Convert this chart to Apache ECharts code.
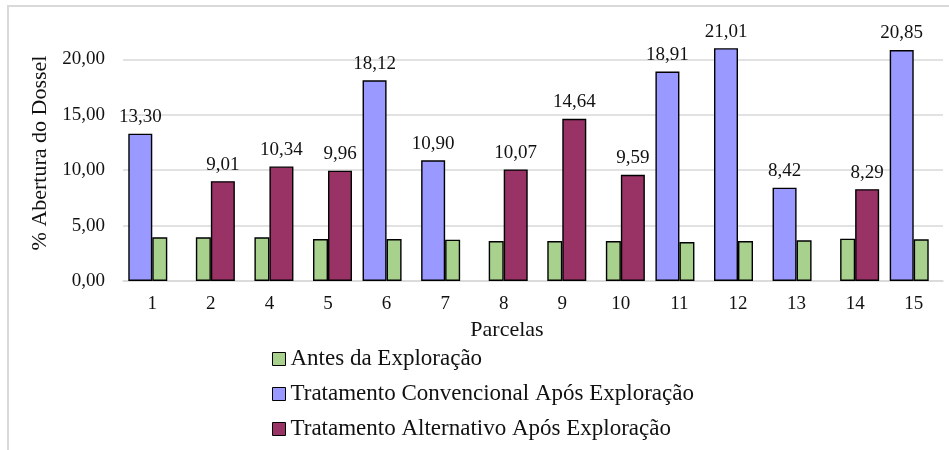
<!DOCTYPE html>
<html>
<head>
<meta charset="utf-8">
<script src="https://cdn.jsdelivr.net/npm/echarts@6/dist/echarts.min.js"></script>
<style>
  html, body { margin: 0; padding: 0; background: #fff; }
  #chart { width: 949px; height: 450px; }
</style>
</head>
<body>
<div id="chart"></div>
<script>
// Parcelas (plots) on the category axis
const parcelas = ['1', '2', '4', '5', '6', '7', '8', '9', '10', '11', '12', '13', '14', '15'];

// % canopy opening before logging, one value per plot
const antes = [3.94, 3.94, 3.94, 3.79, 3.79, 3.73, 3.61, 3.61, 3.61, 3.52, 3.61, 3.67, 3.82, 3.76];

// % canopy opening after logging; each plot received one of the two treatments
const convencional = [13.30, null, null, null, 18.12, 10.90, null, null, null, 18.91, 21.01, 8.42, null, 20.85];
const alternativo  = [null, 9.01, 10.34, 9.96, null, null, 10.07, 14.64, 9.59, null, null, null, 8.29, null];

// y-axis ticks
const yTicks = { min: 0, max: 25, step: 5 };

const NAME_ANTES = 'Antes da Exploração';
const NAME_CONV = 'Tratamento Convencional Após Exploração';
const NAME_ALT = 'Tratamento Alternativo Após Exploração';

// "Antes" bar sits left of an alternative-treatment bar, right of a conventional one
const antesEsq = antes.map((v, i) => (convencional[i] == null ? v : null));
const antesDir = antes.map((v, i) => (convencional[i] == null ? null : v));

const FONT = "'Liberation Serif', 'Times New Roman', serif";
const fmt = v => v.toFixed(2).replace('.', ',');

const border = { borderColor: '#000', borderWidth: 1.4 };
const valueLabel = {
  show: true,
  position: 'top',
  distance: 7,
  fontFamily: FONT,
  fontSize: 19,
  color: '#111',
  formatter: p => fmt(p.value)
};

const chart = echarts.init(document.getElementById('chart'), null, { renderer: 'canvas' });

chart.setOption({
  animation: false,
  backgroundColor: '#fff',
  textStyle: { fontFamily: FONT },
  graphic: [{
    type: 'rect',
    z: -10,
    shape: { x: 8, y: 6, width: 1000, height: 500 },
    style: { fill: 'none', stroke: '#D9D9D9', lineWidth: 2 }
  }],
  grid: { left: 123, right: 6, top: 4, bottom: 169, containLabel: false },
  legend: {
    orient: 'vertical',
    left: 267,
    top: 342,
    itemGap: 11,
    itemWidth: 13,
    itemHeight: 13,
    icon: 'rect',
    itemStyle: { borderColor: '#000', borderWidth: 1 },
    textStyle: { fontFamily: FONT, fontSize: 23, lineHeight: 24, color: '#111' },
    data: [NAME_ANTES, NAME_CONV, NAME_ALT]
  },
  xAxis: [{
    type: 'category',
    data: parcelas,
    name: 'Parcelas',
    nameLocation: 'middle',
    nameGap: 36,
    nameTextStyle: { fontFamily: FONT, fontSize: 22, color: '#111', padding: [0, 52, 0, 0] },
    axisLine: { show: true, lineStyle: { color: '#D9D9D9', width: 1.5 } },
    axisTick: { show: false },
    axisLabel: { fontFamily: FONT, fontSize: 19, color: '#111', margin: 14 }
  }, {
    type: 'category',
    data: parcelas,
    show: false
  }],
  yAxis: {
    type: 'value',
    min: yTicks.min,
    max: yTicks.max,
    interval: yTicks.step,
    name: '% Abertura do Dossel',
    nameLocation: 'middle',
    nameGap: 67,
    nameTextStyle: { fontFamily: FONT, fontSize: 22, color: '#111', padding: [0, 21, 0, 0] },
    axisLine: { show: false },
    axisTick: { show: false },
    axisLabel: { fontFamily: FONT, fontSize: 19, color: '#111', margin: 18, formatter: fmt, showMaxLabel: false },
    splitLine: { show: true, showMaxLine: false, lineStyle: { color: '#D9D9D9', width: 1.5 } }
  },
  series: [
    {
      name: NAME_CONV, type: 'bar', xAxisIndex: 0, data: convencional,
      barWidth: 24, barGap: 0,
      itemStyle: Object.assign({ color: '#9999FF' }, border),
      label: valueLabel
    },
    {
      name: NAME_ALT, type: 'bar', xAxisIndex: 0, data: alternativo,
      barWidth: 24, barGap: 0,
      itemStyle: Object.assign({ color: '#993366' }, border),
      label: valueLabel
    },
    {
      name: NAME_ANTES, type: 'bar', xAxisIndex: 1, data: antesEsq,
      barWidth: 15, barGap: 0,
      itemStyle: Object.assign({ color: '#A9D18E' }, border)
    },
    {
      name: NAME_ANTES, type: 'bar', xAxisIndex: 1, data: antesDir,
      barWidth: 15, barGap: 0,
      itemStyle: Object.assign({ color: '#A9D18E' }, border)
    }
  ]
});
</script>
</body>
</html>
